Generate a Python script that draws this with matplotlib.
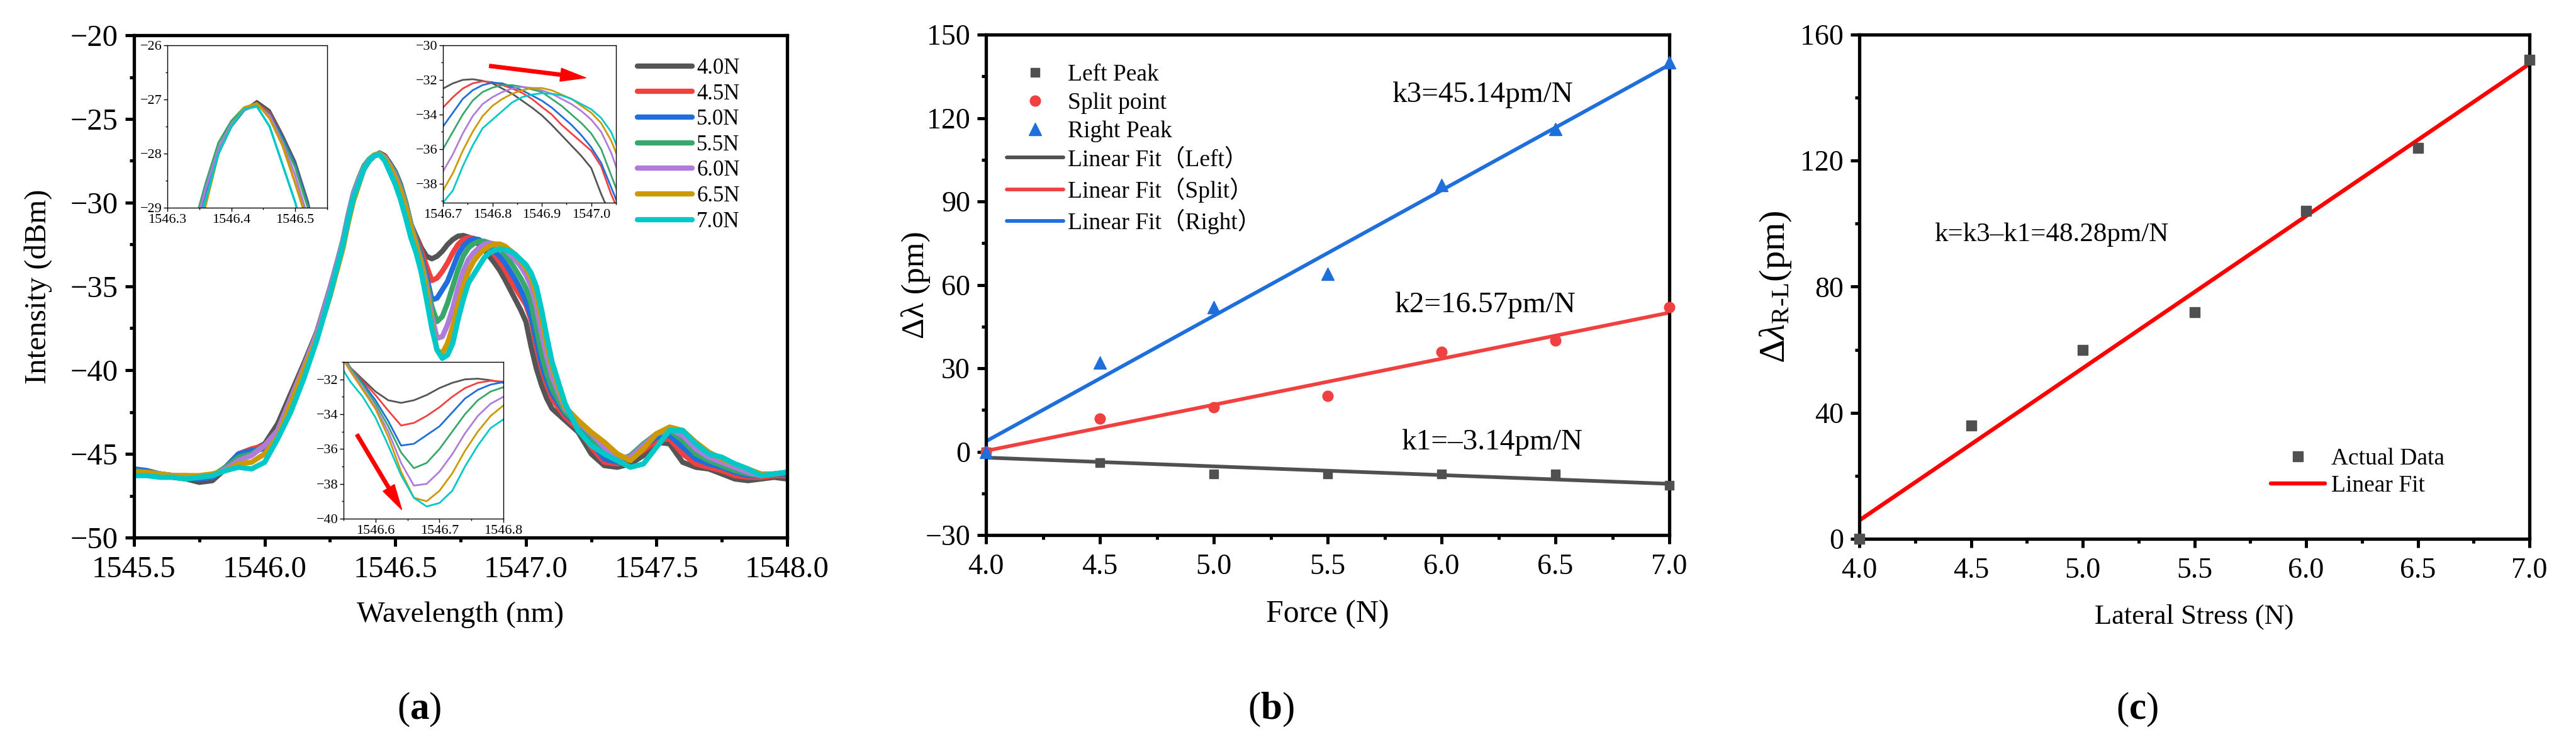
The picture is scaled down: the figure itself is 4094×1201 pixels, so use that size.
import numpy as np
import matplotlib
matplotlib.use("Agg")
import matplotlib.pyplot as plt
from matplotlib.ticker import MultipleLocator, FuncFormatter
from matplotlib.patches import FancyArrowPatch

plt.rcParams['font.family'] = ['Liberation Serif', 'Noto Sans CJK SC']
plt.rcParams['mathtext.fontset'] = 'custom'
plt.rcParams['mathtext.rm'] = 'Liberation Serif'
plt.rcParams['mathtext.it'] = 'Liberation Serif:italic'
plt.rcParams['mathtext.bf'] = 'Liberation Serif:bold'

# ---------------- data: (a) spectra ----------------
wavelength = [1545.50, 1545.55, 1545.60, 1545.65, 1545.70, 1545.75, 1545.80, 1545.85,
              1545.90, 1545.95, 1546.00, 1546.05, 1546.10, 1546.15, 1546.20, 1546.25,
              1546.30,
              1546.32, 1546.34, 1546.36, 1546.38, 1546.40, 1546.42, 1546.44, 1546.46,
              1546.48, 1546.50, 1546.52, 1546.54, 1546.56, 1546.58, 1546.60, 1546.62,
              1546.64, 1546.66, 1546.68, 1546.70, 1546.72, 1546.74, 1546.76, 1546.78,
              1546.80, 1546.82, 1546.84, 1546.86, 1546.88, 1546.90, 1546.92, 1546.94,
              1546.96, 1546.98, 1547.00, 1547.02, 1547.04, 1547.06, 1547.08, 1547.10,
              1547.15, 1547.20, 1547.25, 1547.30, 1547.35, 1547.40, 1547.45, 1547.50,
              1547.55, 1547.60, 1547.65, 1547.70, 1547.75, 1547.80, 1547.85, 1547.90,
              1547.95, 1548.00]

spec_40 = [-46.2, -46.2, -46.3, -46.4, -46.5, -46.7, -46.6, -45.9, -45.1, -44.8, -44.4, -43.2,
           -41.4, -39.6, -37.7, -35.1, -32.3,
           -30.8, -29.5, -28.7, -27.95, -27.5, -27.2, -27.03, -27.2, -27.65, -28.15, -28.9,
           -30.0, -31.3, -32.0, -32.7, -33.2, -33.35, -33.2, -32.9, -32.5, -32.2, -32.0,
           -31.96, -32.05, -32.2, -32.5, -32.8, -33.2, -33.6, -34.05, -34.6, -35.2, -35.8,
           -36.4, -37.1, -38.6, -39.9, -40.9, -41.7, -42.3,
           -43.0, -43.7, -45.0, -45.7, -45.8, -45.6, -45.1, -44.3, -44.4, -45.5, -45.8,
           -45.9, -46.2, -46.5, -46.6, -46.5, -46.4, -46.5]
spec_45 = [-46.0, -46.1, -46.2, -46.3, -46.4, -46.5, -46.4, -45.8, -45.0, -44.7, -44.5, -43.6,
           -41.7, -39.8, -37.8, -35.2, -32.3,
           -30.8, -29.5, -28.7, -27.95, -27.5, -27.2, -27.08, -27.25, -27.7, -28.2, -28.95,
           -30.0, -31.3, -32.1, -32.9, -33.8, -34.65, -34.5, -34.1, -33.6, -33.0, -32.5,
           -32.2, -32.08, -32.13, -32.3, -32.5, -32.75, -33.1, -33.56, -34.0, -34.6, -35.1,
           -35.6, -36.1, -37.0, -38.6, -39.9, -40.9, -41.7,
           -42.8, -43.5, -44.6, -45.5, -45.6, -45.3, -44.8, -44.2, -44.1, -45.0, -45.6,
           -45.8, -46.0, -46.3, -46.4, -46.4, -46.3, -46.3]
spec_50 = [-45.9, -46.0, -46.2, -46.3, -46.4, -46.5, -46.4, -45.8, -45.0, -44.8, -44.7, -44.0,
           -42.0, -39.9, -37.9, -35.3, -32.3,
           -30.8, -29.5, -28.7, -27.95, -27.5, -27.2, -27.1, -27.28, -27.7, -28.2, -28.95,
           -30.0, -31.3, -32.2, -33.2, -34.4, -35.8, -35.7, -35.2, -34.7, -33.9, -33.1,
           -32.6, -32.3, -32.16, -32.2, -32.4, -32.6, -32.9, -33.2, -33.6, -34.1, -34.6,
           -35.2, -35.9, -36.8, -38.2, -39.6, -40.6, -41.4,
           -42.6, -43.3, -44.3, -45.3, -45.5, -45.2, -44.6, -44.0, -43.9, -44.6, -45.3,
           -45.6, -45.8, -46.1, -46.3, -46.3, -46.2, -46.2]
spec_55 = [-46.0, -46.1, -46.2, -46.3, -46.4, -46.4, -46.3, -45.8, -45.2, -45.0, -44.5, -43.6,
           -41.7, -39.8, -37.8, -35.2, -32.2,
           -30.7, -29.4, -28.55, -27.8, -27.4, -27.15, -27.08, -27.3, -27.75, -28.25, -29.0,
           -30.0, -31.3, -32.3, -33.4, -34.7, -36.2, -37.1, -36.8, -36.0, -35.0, -34.0,
           -33.2, -32.7, -32.45, -32.3, -32.3, -32.4, -32.55, -32.7, -33.1, -33.5, -34.0,
           -34.5, -35.1, -36.0, -37.5, -39.0, -40.2, -41.1,
           -42.5, -43.2, -44.0, -45.0, -45.4, -45.1, -44.4, -43.8, -43.6, -44.2, -45.0,
           -45.4, -45.7, -46.0, -46.2, -46.3, -46.2, -46.1]
spec_60 = [-46.1, -46.1, -46.2, -46.3, -46.3, -46.4, -46.3, -45.9, -45.4, -45.1, -44.5, -43.6,
           -41.7, -39.8, -37.8, -35.2, -32.3,
           -30.8, -29.5, -28.65, -27.9, -27.45, -27.2, -27.1, -27.3, -27.8, -28.4, -29.2,
           -30.2, -31.4, -32.5, -33.6, -35.0, -36.8, -38.1, -38.0, -37.3, -36.3, -35.1,
           -34.1, -33.4, -33.0, -32.7, -32.5, -32.4, -32.47, -32.6, -32.8, -33.1, -33.4,
           -33.8, -34.3, -35.0, -36.2, -37.8, -39.2, -40.4,
           -42.3, -43.1, -43.8, -44.6, -45.2, -45.2, -44.5, -43.8, -43.5, -43.9, -44.7,
           -45.2, -45.5, -45.8, -46.1, -46.3, -46.2, -46.1]
spec_65 = [-46.1, -46.1, -46.2, -46.3, -46.3, -46.3, -46.2, -46.0, -45.6, -45.5, -45.0, -44.0,
           -42.0, -40.0, -38.1, -35.6, -32.7,
           -31.2, -29.9, -28.95, -28.0, -27.5, -27.15, -27.07, -27.35, -27.85, -28.55, -29.3,
           -30.3, -31.5, -32.6, -33.7, -35.3, -37.3, -38.8, -39.0, -38.4, -37.4, -36.1,
           -35.0, -34.1, -33.5, -33.1, -32.8, -32.6, -32.47, -32.47, -32.6, -32.85, -33.1,
           -33.5, -33.9, -34.5, -35.5, -36.9, -38.5, -39.8,
           -42.2, -43.0, -43.7, -44.3, -45.0, -45.4, -44.7, -43.8, -43.4, -43.6, -44.3,
           -44.9, -45.3, -45.6, -45.9, -46.2, -46.2, -46.1]
spec_70 = [-46.3, -46.3, -46.4, -46.4, -46.5, -46.4, -46.3, -46.0, -45.8, -45.9, -45.5, -44.1,
           -42.5, -40.5, -38.2, -35.5, -32.5,
           -31.0, -29.7, -28.85, -28.0, -27.5, -27.18, -27.13, -27.5, -28.2, -28.9, -29.8,
           -30.9, -32.1, -33.0, -34.2, -35.8, -37.5, -38.8, -39.3, -39.1, -38.4, -37.0,
           -35.8, -34.8, -34.3, -33.8, -33.3, -33.0, -32.85, -32.77, -32.8, -32.9, -33.1,
           -33.4, -33.7, -34.2, -35.0, -36.4, -38.0, -39.5,
           -42.0, -43.6, -44.5, -45.0, -45.4, -45.8, -45.6, -44.6, -43.6, -43.6, -44.4,
           -45.0, -45.2, -45.6, -45.9, -46.3, -46.2, -46.1]

spectra = [spec_40, spec_45, spec_50, spec_55, spec_60, spec_65, spec_70]
force_labels = ['4.0N', '4.5N', '5.0N', '5.5N', '6.0N', '6.5N', '7.0N']
spec_colors = ['#555555', '#f04040', '#1e6edc', '#38a86a', '#b07cdc', '#cc9900', '#00c8c8']

# ---------------- data: (b) and (c) ----------------
force = [4.0, 4.5, 5.0, 5.5, 6.0, 6.5, 7.0]
left_peak = [0, -4, -8, -8, -8, -8, -12]
split_point = [0, 12, 16, 20, 36, 40, 52]
right_peak = [0, 32, 52, 64, 96, 116, 140]
diff_rl = [0, 36, 60, 72, 104, 124, 152]

W, H = 4094, 1201
fig = plt.figure(figsize=(W / 100, H / 100), dpi=100)


def rect(x0, y0, x1, y1):
    return [x0 / W, 1 - y1 / H, (x1 - x0) / W, (y1 - y0) / H]


def minus_fmt(decimals):
    return FuncFormatter(lambda v, p: f'{v:.{decimals}f}'.replace('-', '\u2212'))


def style_main(ax, fs):
    for s in ax.spines.values():
        s.set_linewidth(3.8)
    ax.tick_params(which='both', direction='out', top=False, right=False, width=3.6)
    ax.tick_params(which='major', length=10, labelsize=fs)
    ax.tick_params(which='minor', length=5)
    ax.tick_params(axis='x', which='major', pad=11)
    ax.tick_params(axis='y', which='major', pad=8)


def style_inset(ax):
    for s in ax.spines.values():
        s.set_linewidth(1.0)
    ax.tick_params(which='both', direction='out', top=False, right=False, width=1.0)
    ax.tick_params(which='major', length=4, labelsize=16)
    ax.tick_params(which='minor', length=2.5)
    ax.tick_params(axis='x', pad=3.5)
    ax.tick_params(axis='y', pad=2)


# ---------------- (a) ----------------
ax_a = fig.add_axes(rect(213, 56, 1251, 854))
for vals, col, lab in zip(spectra, spec_colors, force_labels):
    ax_a.plot(wavelength, vals, color=col, lw=6, label=lab,
              solid_capstyle='round', solid_joinstyle='round')
ax_a.set_xlim(1545.5, 1548.0)
ax_a.set_ylim(-50, -20)
ax_a.xaxis.set_major_locator(MultipleLocator(0.5))
ax_a.xaxis.set_minor_locator(MultipleLocator(0.25))
ax_a.yaxis.set_major_locator(MultipleLocator(5))
ax_a.yaxis.set_minor_locator(MultipleLocator(2.5))
ax_a.xaxis.set_major_formatter(minus_fmt(1))
ax_a.yaxis.set_major_formatter(minus_fmt(0))
style_main(ax_a, 35)
ax_a.set_xlabel('Wavelength (nm)', fontsize=34)
ax_a.set_ylabel('Intensity (dBm)', fontsize=35)
ax_a.xaxis.label.set_va('center')
ax_a.yaxis.label.set_va('center')
ax_a.xaxis.set_label_coords(0.5, -0.154)
ax_a.yaxis.set_label_coords(-0.147, 0.5)
ax_a.legend(loc='upper left', bbox_to_anchor=(0.771, 0.955), frameon=False,
            fontsize=25, handlelength=2.5, handletextpad=0.2, labelspacing=0.22,
            borderpad=0, borderaxespad=0)

inset_specs = [
    (rect(266, 72, 520, 330), (1546.3, 1546.55), (-29, -26), 1, 0.5, 0.1, 0.05, 2.6),
    (rect(704, 72, 979, 322), (1546.7, 1547.05), (-39.1, -30), 2, 1, 0.1, 0.05, 2.0),
    (rect(546, 575, 800, 824), (1546.55, 1546.8), (-40, -31), 2, 1, 0.1, 0.05, 2.0),
]
insets = []
for box, xl, yl, ymaj, ymin, xmaj, xmin, lw in inset_specs:
    ins = fig.add_axes(box)
    ins.set_facecolor('white')
    for vals, col in zip(spectra, spec_colors):
        ins.plot(wavelength, vals, color=col, lw=lw)
    ins.set_xlim(*xl)
    ins.set_ylim(*yl)
    ins.xaxis.set_major_locator(MultipleLocator(xmaj))
    ins.xaxis.set_minor_locator(MultipleLocator(xmin))
    ins.yaxis.set_major_locator(MultipleLocator(ymaj))
    ins.yaxis.set_minor_locator(MultipleLocator(ymin))
    ins.xaxis.set_major_formatter(minus_fmt(1))
    ins.yaxis.set_major_formatter(minus_fmt(0))
    style_inset(ins)
    insets.append(ins)

arrow_style = 'simple,head_length=29,head_width=15,tail_width=4'
for ins, p0, p1 in [(insets[1], (1546.794, -31.19), (1546.989, -31.88)),
                    (insets[2], (1546.571, -35.17), (1546.641, -39.48))]:
    ins.add_patch(FancyArrowPatch(p0, p1, arrowstyle=arrow_style, mutation_scale=1,
                                  color='red', shrinkA=0, shrinkB=0,
                                  transform=ins.transData))

# ---------------- (b) ----------------
ax_b = fig.add_axes(rect(1567, 55, 2653, 850))
fx = np.array([force[0], force[-1]])
series_b = [
    (left_peak, '#505050', 's', 10, 'Left Peak', 'Linear Fit\uff08Left\uff09'),
    (split_point, '#f04040', 'o', 12, 'Split point', 'Linear Fit\uff08Split\uff09'),
    (right_peak, '#1e6edc', '^', 14, 'Right Peak', 'Linear Fit\uff08Right\uff09'),
]
marker_handles, line_handles = [], []
for vals, col, mk, ms, lab, fitlab in series_b:
    coef = np.polyfit(force, vals, 1)
    ln, = ax_b.plot(fx, np.polyval(coef, fx), color=col, lw=4.2, label=fitlab,
                    solid_capstyle='round')
    mh, = ax_b.plot(force, vals, ls='none', marker=mk, ms=ms, color=col, label=lab,
                    clip_on=False, zorder=3)
    marker_handles.append(mh)
    line_handles.append(ln)
ax_b.set_xlim(4, 7)
ax_b.set_ylim(-30, 150)
ax_b.xaxis.set_major_locator(MultipleLocator(0.5))
ax_b.xaxis.set_minor_locator(MultipleLocator(0.25))
ax_b.yaxis.set_major_locator(MultipleLocator(30))
ax_b.yaxis.set_minor_locator(MultipleLocator(15))
ax_b.xaxis.set_major_formatter(minus_fmt(1))
ax_b.yaxis.set_major_formatter(minus_fmt(0))
style_main(ax_b, 33)
ax_b.set_xlabel('Force (N)', fontsize=36)
ax_b.set_ylabel('\u0394\u03bb (pm)', fontsize=37)
ax_b.xaxis.label.set_va('center')
ax_b.yaxis.label.set_va('center')
ax_b.xaxis.set_label_coords(0.5, -0.158)
ax_b.yaxis.set_label_coords(-0.103, 0.5)
ax_b.legend(handles=marker_handles + line_handles, loc='upper left',
            bbox_to_anchor=(0.030, 0.941), frameon=False, fontsize=27, numpoints=1,
            handlelength=2.4, handletextpad=0.2, labelspacing=0.27,
            borderpad=0, borderaxespad=0)
ax_b.text(6.18, 128.4, 'k3=45.14pm/N', fontsize=34, ha='center', va='center')
ax_b.text(6.19, 52.8, 'k2=16.57pm/N', fontsize=34, ha='center', va='center')
ax_b.text(6.22, 3.3, 'k1=\u20133.14pm/N', fontsize=34, ha='center', va='center')

# ---------------- (c) ----------------
ax_c = fig.add_axes(rect(2955, 55, 4020, 856))
coef_c = np.polyfit(force, diff_rl, 1)
ax_c.plot(fx, np.polyval(coef_c, fx), color='#ff0000', lw=4.6, label='Linear Fit',
          solid_capstyle='round')
pts_c, = ax_c.plot(force, diff_rl, ls='none', marker='s', ms=11, color='#505050',
                   label='Actual Data', clip_on=False, zorder=3)
ax_c.set_xlim(4, 7)
ax_c.set_ylim(0, 160)
ax_c.xaxis.set_major_locator(MultipleLocator(0.5))
ax_c.xaxis.set_minor_locator(MultipleLocator(0.25))
ax_c.yaxis.set_major_locator(MultipleLocator(40))
ax_c.yaxis.set_minor_locator(MultipleLocator(20))
ax_c.xaxis.set_major_formatter(minus_fmt(1))
ax_c.yaxis.set_major_formatter(minus_fmt(0))
style_main(ax_c, 33)
ax_c.set_xlabel('Lateral Stress (N)', fontsize=32)
ax_c.set_ylabel('$\\Delta\\lambda_{\\mathrm{R\u2010L}}$(pm)', fontsize=42)
ax_c.xaxis.label.set_va('center')
ax_c.yaxis.label.set_va('center')
ax_c.xaxis.set_label_coords(0.5, -0.154)
ax_c.yaxis.set_label_coords(-0.125, 0.5)
h_c, l_c = ax_c.get_legend_handles_labels()
ax_c.legend(h_c[::-1], l_c[::-1], loc='upper left', bbox_to_anchor=(0.614, 0.18),
            frameon=False, fontsize=27, numpoints=1, handlelength=2.3,
            handletextpad=0.25, labelspacing=0.22, borderpad=0, borderaxespad=0)
ax_c.text(4.86, 96.5, 'k=k3\u2013k1=48.28pm/N', fontsize=31, ha='center', va='center')

# ---------------- panel letters ----------------
for xpix, letter in [(666, 'a'), (2020, 'b'), (3397, 'c')]:
    fig.text(xpix / W, 1 - 1127 / H, '($\\mathbf{' + letter + '}$)', fontsize=44,
             ha='center', va='center')

fig.savefig('out.png', dpi=100, facecolor='white')
